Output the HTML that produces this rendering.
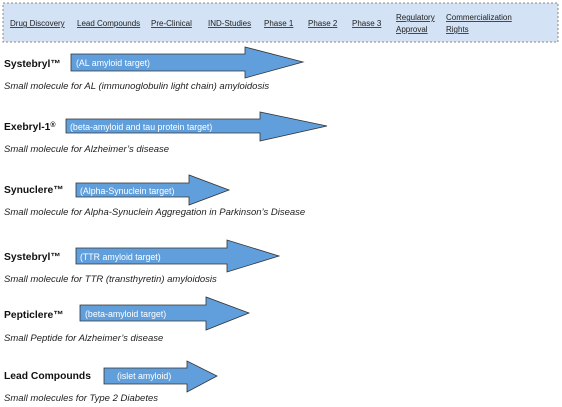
<!DOCTYPE html>
<html><head><style>
body{margin:0;background:#fff}
svg{display:block}
text{font-family:"Liberation Sans",Arial,sans-serif}
.h{font-size:8px;fill:#222;text-decoration:underline}
.t{font-size:10.3px;font-weight:bold;fill:#111}
.d{font-size:9.5px;font-style:italic;fill:#222}
.w{font-size:8.8px;fill:#fff}
.a{fill:#619fdc;stroke:#333;stroke-width:0.8}
</style></head><body>
<svg width="562" height="407" viewBox="0 0 562 407">
<rect x="3" y="3" width="555" height="39" fill="#d3e2f4" stroke="#888" stroke-dasharray="2,2"/>
<text class="h" x="10" y="26">Drug Discovery</text>
<text class="h" x="77" y="26">Lead Compounds</text>
<text class="h" x="151" y="26">Pre-Clinical</text>
<text class="h" x="208" y="26">IND-Studies</text>
<text class="h" x="264" y="26">Phase 1</text>
<text class="h" x="308" y="26">Phase 2</text>
<text class="h" x="352" y="26">Phase 3</text>
<text class="h" x="396" y="20">Regulatory</text>
<text class="h" x="396" y="32">Approval</text>
<text class="h" x="446" y="20">Commercialization</text>
<text class="h" x="446" y="32">Rights</text>

<polygon class="a" points="71,54 245,54 245,47 303,62 245,78 245,71 71,71"/>
<text class="w" x="76" y="66">(AL amyloid target)</text>
<text class="t" x="4" y="67">Systebryl™</text>
<text class="d" x="4" y="89">Small molecule for AL (immunoglobulin light chain) amyloidosis</text>

<polygon class="a" points="66,119 260,119 260,112 327,126 260,141 260,133 66,133"/>
<text class="w" x="70" y="130">(beta-amyloid and tau protein target)</text>
<text class="t" x="4" y="130">Exebryl-1<tspan font-size="7" dy="-3">®</tspan></text>
<text class="d" x="4" y="152">Small molecule for Alzheimer’s disease</text>

<polygon class="a" points="76,183 189,183 189,175 229,190 189,205 189,197 76,197"/>
<text class="w" x="80" y="194">(Alpha-Synuclein target)</text>
<text class="t" x="4" y="193">Synuclere™</text>
<text class="d" x="4" y="215">Small  molecule  for Alpha-Synuclein Aggregation in Parkinson’s Disease</text>

<polygon class="a" points="76,248 227,248 227,240 279,256 227,272 227,264 76,264"/>
<text class="w" x="80" y="260">(TTR amyloid target)</text>
<text class="t" x="4" y="260">Systebryl™</text>
<text class="d" x="4" y="282">Small molecule for TTR (transthyretin) amyloidosis</text>

<polygon class="a" points="80,305 206,305 206,297 249,313 206,330 206,321 80,321"/>
<text class="w" x="85" y="317">(beta-amyloid target)</text>
<text class="t" x="4" y="318">Pepticlere™</text>
<text class="d" x="4" y="341">Small Peptide for Alzheimer’s disease</text>

<polygon class="a" points="104,368 187,368 187,361 217,376 187,392 187,384 104,384"/>
<text class="w" x="117" y="379" font-size="7.5">(islet amyloid)</text>
<text class="t" x="4" y="379">Lead Compounds</text>
<text class="d" x="4" y="401">Small molecules for Type 2 Diabetes</text>
</svg>
</body></html>
